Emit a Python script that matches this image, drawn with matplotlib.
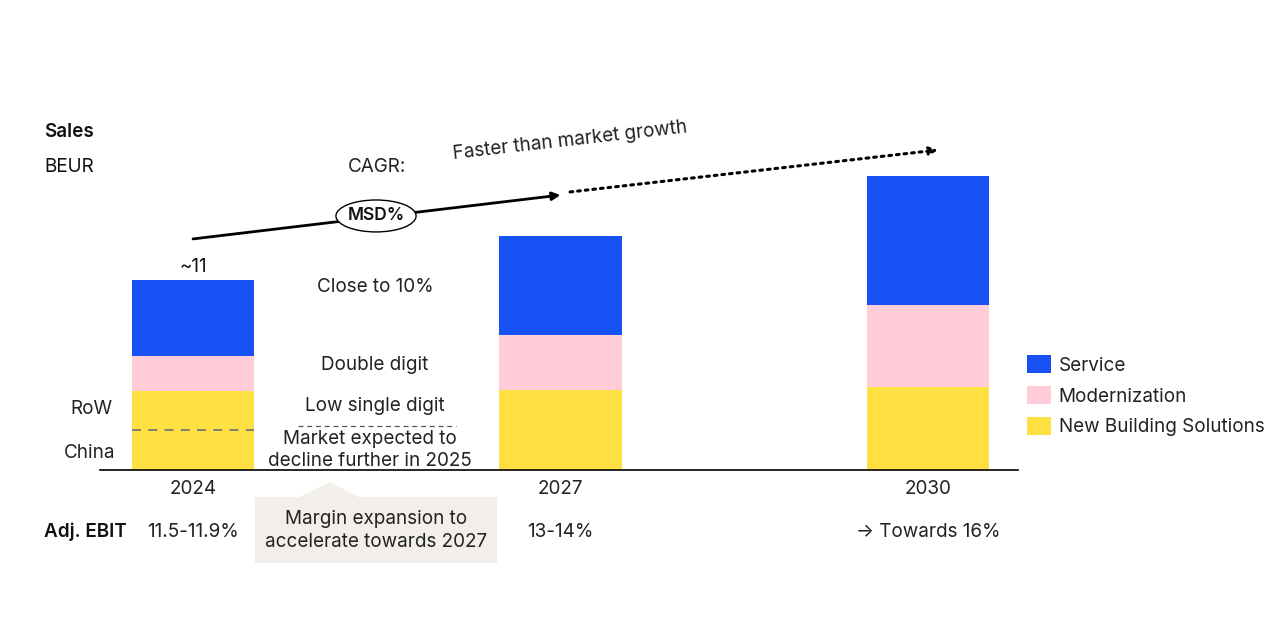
import matplotlib.pyplot as plt
from matplotlib.patches import Ellipse, Rectangle, Polygon

plt.rcParams['font.family'] = ['Inter', 'DejaVu Sans']

# data (BEUR)
years = ['2024', '2027', '2030']
new_building = [4.57, 4.63, 4.81]
modernization = [2.03, 3.18, 4.75]
service = [4.40, 5.73, 7.47]
china_part = 2.32
ebit = ['11.5-11.9%', '13-14%', '\u2192 Towards 16%']
cagr_labels = ['Close to 10%', 'Double digit', 'Low single digit']

c_service = '#1652F4'
c_modern = '#FFCCD8'
c_newb = '#FFE043'
fs = 13.6

fig = plt.figure(figsize=(12.74, 6.23), dpi=100)
ax = fig.add_axes([0, 0, 1, 1])
# pixel scale: 367.5 px per bar step, 17.27 px per BEUR
ax.set_xlim(-193 / 367.5, (1274 - 193) / 367.5)
ax.set_ylim(-153 / 17.27, 470 / 17.27)
ax.axis('off')

x = list(range(len(years)))
w = 0.332
b1 = ax.bar(x, new_building, w, color=c_newb, label='New Building Solutions')
bot2 = new_building
b2 = ax.bar(x, modernization, w, bottom=bot2, color=c_modern, label='Modernization')
bot3 = [a + b for a, b in zip(new_building, modernization)]
b3 = ax.bar(x, service, w, bottom=bot3, color=c_service, label='Service')
totals = [a + b for a, b in zip(bot3, service)]

# baseline
ax.plot([-0.252, 2.245], [0, 0], color='black', lw=1.2)

# China / RoW split
ax.plot([-w / 2, w / 2], [china_part, china_part], color='#777777', lw=1.3, ls=(0, (5, 4)))
ax.text(-0.22, china_part + 1.22, 'RoW', ha='right', va='center', fontsize=fs, color='#222222')
ax.text(-0.21, china_part - 1.32, 'China', ha='right', va='center', fontsize=fs, color='#222222')

# year labels and EBIT
for i, yr in enumerate(years):
    ax.text(i, -1.1, yr, ha='center', va='center', fontsize=fs, color='#222222')
    ax.text(i, -3.6, ebit[i], ha='center', va='center', fontsize=fs, color='#222222')
ax.text(-0.405, -3.6, 'Adj. EBIT', ha='left', va='center', fontsize=fs, fontweight='semibold',
        color='#111111')

ax.text(0, totals[0] + 0.75, '~11', ha='center', va='center', fontsize=fs, color='#111111')

# title
ax.text(-0.405, 19.6, 'Sales', ha='left', va='center', fontsize=fs, fontweight='semibold',
        color='#111111')
ax.text(-0.405, 17.55, 'BEUR', ha='left', va='center', fontsize=fs, color='#111111')

# CAGR annotations
ax.text(0.5, 17.55, 'CAGR:', ha='center', va='center', fontsize=fs, color='#222222')
ax.annotate('', xy=(1.0, 15.92), xytext=(0.0, 13.38),
            arrowprops=dict(arrowstyle='-|>', color='black', lw=2, mutation_scale=12,
                            shrinkA=0, shrinkB=0))
ax.annotate('', xy=(2.027, 18.53), xytext=(1.026, 16.1),
            arrowprops=dict(arrowstyle='-|>', color='black', lw=2.2, ls=(0, (0.9, 1.6)),
                            mutation_scale=12, shrinkA=0, shrinkB=0))
ax.add_patch(Ellipse((0.498, 14.71), 0.218, 1.85, facecolor='white', edgecolor='black',
                     lw=1, zorder=5))
ax.text(0.498, 14.71, 'MSD%', ha='center', va='center', fontsize=12.5, fontweight='semibold',
        color='#111111', zorder=6)
ax.text(1.025, 19.05, 'Faster than market growth', ha='center', va='center', fontsize=fs,
        rotation=6.5, color='#222222')

ax.text(0.495, 10.6, cagr_labels[0], ha='center', va='center', fontsize=fs, color='#222222')
ax.text(0.495, 6.1, cagr_labels[1], ha='center', va='center', fontsize=fs, color='#222222')
ax.text(0.495, 3.68, cagr_labels[2], ha='center', va='center', fontsize=fs, color='#222222')
ax.plot([0.285, 0.715], [2.55, 2.55], color='#555555', lw=0.9, ls=(0, (4, 3)))
ax.text(0.48, 1.15, 'Market expected to\ndecline further in 2025', ha='center', va='center',
        fontsize=fs, linespacing=1.3, color='#222222')

# margin callout
ax.add_patch(Rectangle((0.169, -5.38), 0.659, 3.82, facecolor='#F2EEEA', edgecolor='none'))
ax.add_patch(Polygon([(0.29, -1.56), (0.45, -1.56), (0.372, -0.7)], closed=True,
                     facecolor='#F2EEEA', edgecolor='none'))
ax.text(0.498, -3.5, 'Margin expansion to\naccelerate towards 2027', ha='center', va='center',
        fontsize=fs, linespacing=1.3, color='#222222')

# legend
ax.legend(handles=[b3, b2, b1], loc='upper left', bbox_to_anchor=(0.8, 0.442), frameon=False,
          fontsize=fs, handlelength=1.3, handleheight=1.1, handletextpad=0.4,
          labelspacing=0.6, borderaxespad=0, labelcolor='#222222')

fig.savefig('out.png', dpi=100)
